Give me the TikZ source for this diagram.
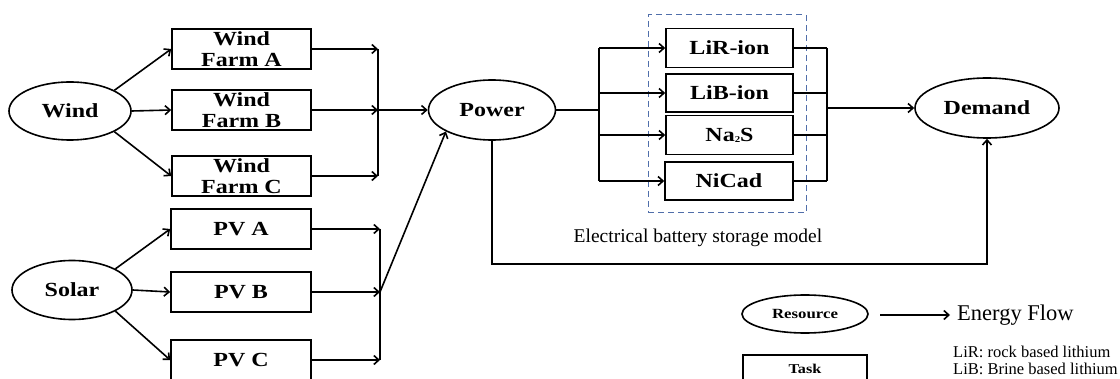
\documentclass[tikz,border=0pt]{standalone}
\usepackage{fontspec}
\setmainfont{Liberation Serif}
\newfontfamily\labfont{Liberation Serif}[FakeStretch=1.2]
\usetikzlibrary{shapes.geometric,arrows.meta}
\definecolor{dashblue}{RGB}{80,110,170}
\begin{document}
\begin{tikzpicture}[x=1pt,y=-1pt,
  ln/.style={line width=1.6pt},
  flow/.style={line width=1.6pt,-{Straight Barb[length=5pt,width=9pt]}},
  lab/.style={font=\labfont\bfseries\fontsize{20}{20.5}\selectfont},
  ell/.style={draw,ellipse,line width=1.6pt,inner sep=0pt,lab},
  box/.style={draw,rectangle,line width=1.6pt,inner sep=0pt,align=center,lab},
  txt/.style={inner sep=0pt}
]
\clip (0,0) rectangle (1120,379);
\fill[white] (0,0) rectangle (1120,379);

% resources
\node[ell,minimum width=122,minimum height=58] (wind) at (70,111) {Wind};
\node[ell,minimum width=120,minimum height=59] (solar) at (72,290) {Solar};

% wind farms
\node[box,minimum width=139,minimum height=40] (wfA) at (241.5,49) {Wind\\Farm A};
\node[box,minimum width=139,minimum height=40] (wfB) at (241.5,110) {Wind\\Farm B};
\node[box,minimum width=139,minimum height=40] (wfC) at (241.5,176) {Wind\\Farm C};

% PV
\node[box,minimum width=140,minimum height=40] (pvA) at (241,229) {PV A};
\node[box,minimum width=140,minimum height=40] (pvB) at (241,292) {PV B};
\node[box,minimum width=140,minimum height=40] (pvC) at (241,360) {PV C};

\draw[flow] (wind.25) -- (wfA.west);
\draw[flow] (wind.east) -- (wfB.west);
\draw[flow] (wind.-25) -- (wfC.west);
\draw[flow] (solar.26) -- (pvA.west);
\draw[flow] (solar.east) -- (pvB.west);
\draw[flow] (solar.-26) -- (pvC.west);

% power
\node[ell,minimum width=127,minimum height=60] (power) at (492,110) {Power};

\coordinate (wj) at (378,110);
\draw[flow] (wfA.east) -- (wfA.east -| wj);
\draw[flow] (wfB.east) -- (wfB.east -| wj);
\draw[flow] (wfC.east) -- (wfC.east -| wj);
\draw[ln] (wfA.east -| wj) -- (wfC.east -| wj);
\draw[flow] (wj) -- (power.west);

\coordinate (sj) at (380,292);
\draw[flow] (pvA.east) -- (pvA.east -| sj);
\draw[flow] (pvB.east) -- (pvB.east -| sj);
\draw[flow] (pvC.east) -- (pvC.east -| sj);
\draw[ln] (pvA.east -| sj) -- (pvC.east -| sj);
\draw[flow] (sj) -- (power.205);

% storage
\node[draw=dashblue,dashed,dash pattern=on 6pt off 4pt,line width=1pt,minimum width=158,minimum height=198,inner sep=0pt] (store) at (727,114) {};
\node[box,minimum width=127,minimum height=39] (lir) at (729.5,48) {LiR-ion};
\node[box,minimum width=127,minimum height=38] (lib) at (729.5,93) {LiB-ion};
\node[box,minimum width=127,minimum height=39] (nas) at (729.5,135) {Na\raisebox{-0.1ex}{\fontsize{9}{9}\selectfont 2}S};
\node[box,minimum width=128,minimum height=38] (nicad) at (729,181) {NiCad};
\node[txt,font=\fontsize{19.5}{22}\selectfont] (storelbl) at (698,238) {Electrical battery storage model};

\coordinate (bs) at (599,110);
\draw[ln] (power.east) -- (bs);
\draw[ln] (bs |- lir.west) -- (bs |- nicad.west);
\draw[flow] (bs |- lir.west) -- (lir.west);
\draw[flow] (bs |- lib.west) -- (lib.west);
\draw[flow] (bs |- nas.west) -- (nas.west);
\draw[flow] (bs |- nicad.west) -- (nicad.west);

% demand
\node[ell,minimum width=144,minimum height=60] (demand) at (987,108) {Demand};
\coordinate (bj) at (827,108);
\draw[ln] (lir.east) -- (lir.east -| bj);
\draw[ln] (lib.east) -- (lib.east -| bj);
\draw[ln] (nas.east) -- (nas.east -| bj);
\draw[ln] (nicad.east) -- (nicad.east -| bj);
\draw[ln] (lir.east -| bj) -- (nicad.east -| bj);
\draw[flow] (bj) -- (demand.west);

\coordinate (bot) at (700,264);
\draw[flow] (power.south) |- (bot) -| (demand.south);

% legend
\node[ell,minimum width=126,minimum height=38,font=\labfont\bfseries\fontsize{14}{16}\selectfont] (res) at (805,314) {Resource};
\coordinate (la) at (880,315);
\coordinate (lb) at (950,315);
\draw[flow] (la) -- (lb);
\node[txt,anchor=west,font=\fontsize{22.5}{24}\selectfont] (ef) at (957,315) {Energy Flow};
\node[box,minimum width=124,minimum height=27,font=\labfont\bfseries\fontsize{13.5}{15}\selectfont] (task) at (805,368.5) {Task};
\node[txt,anchor=west,font=\fontsize{16.5}{17}\selectfont] (lirtxt) at (953,352) {LiR: rock based lithium};
\node[txt,anchor=west,font=\fontsize{16.5}{17}\selectfont] (libtxt) at (953,369) {LiB: Brine based lithium};
\end{tikzpicture}
\end{document}
